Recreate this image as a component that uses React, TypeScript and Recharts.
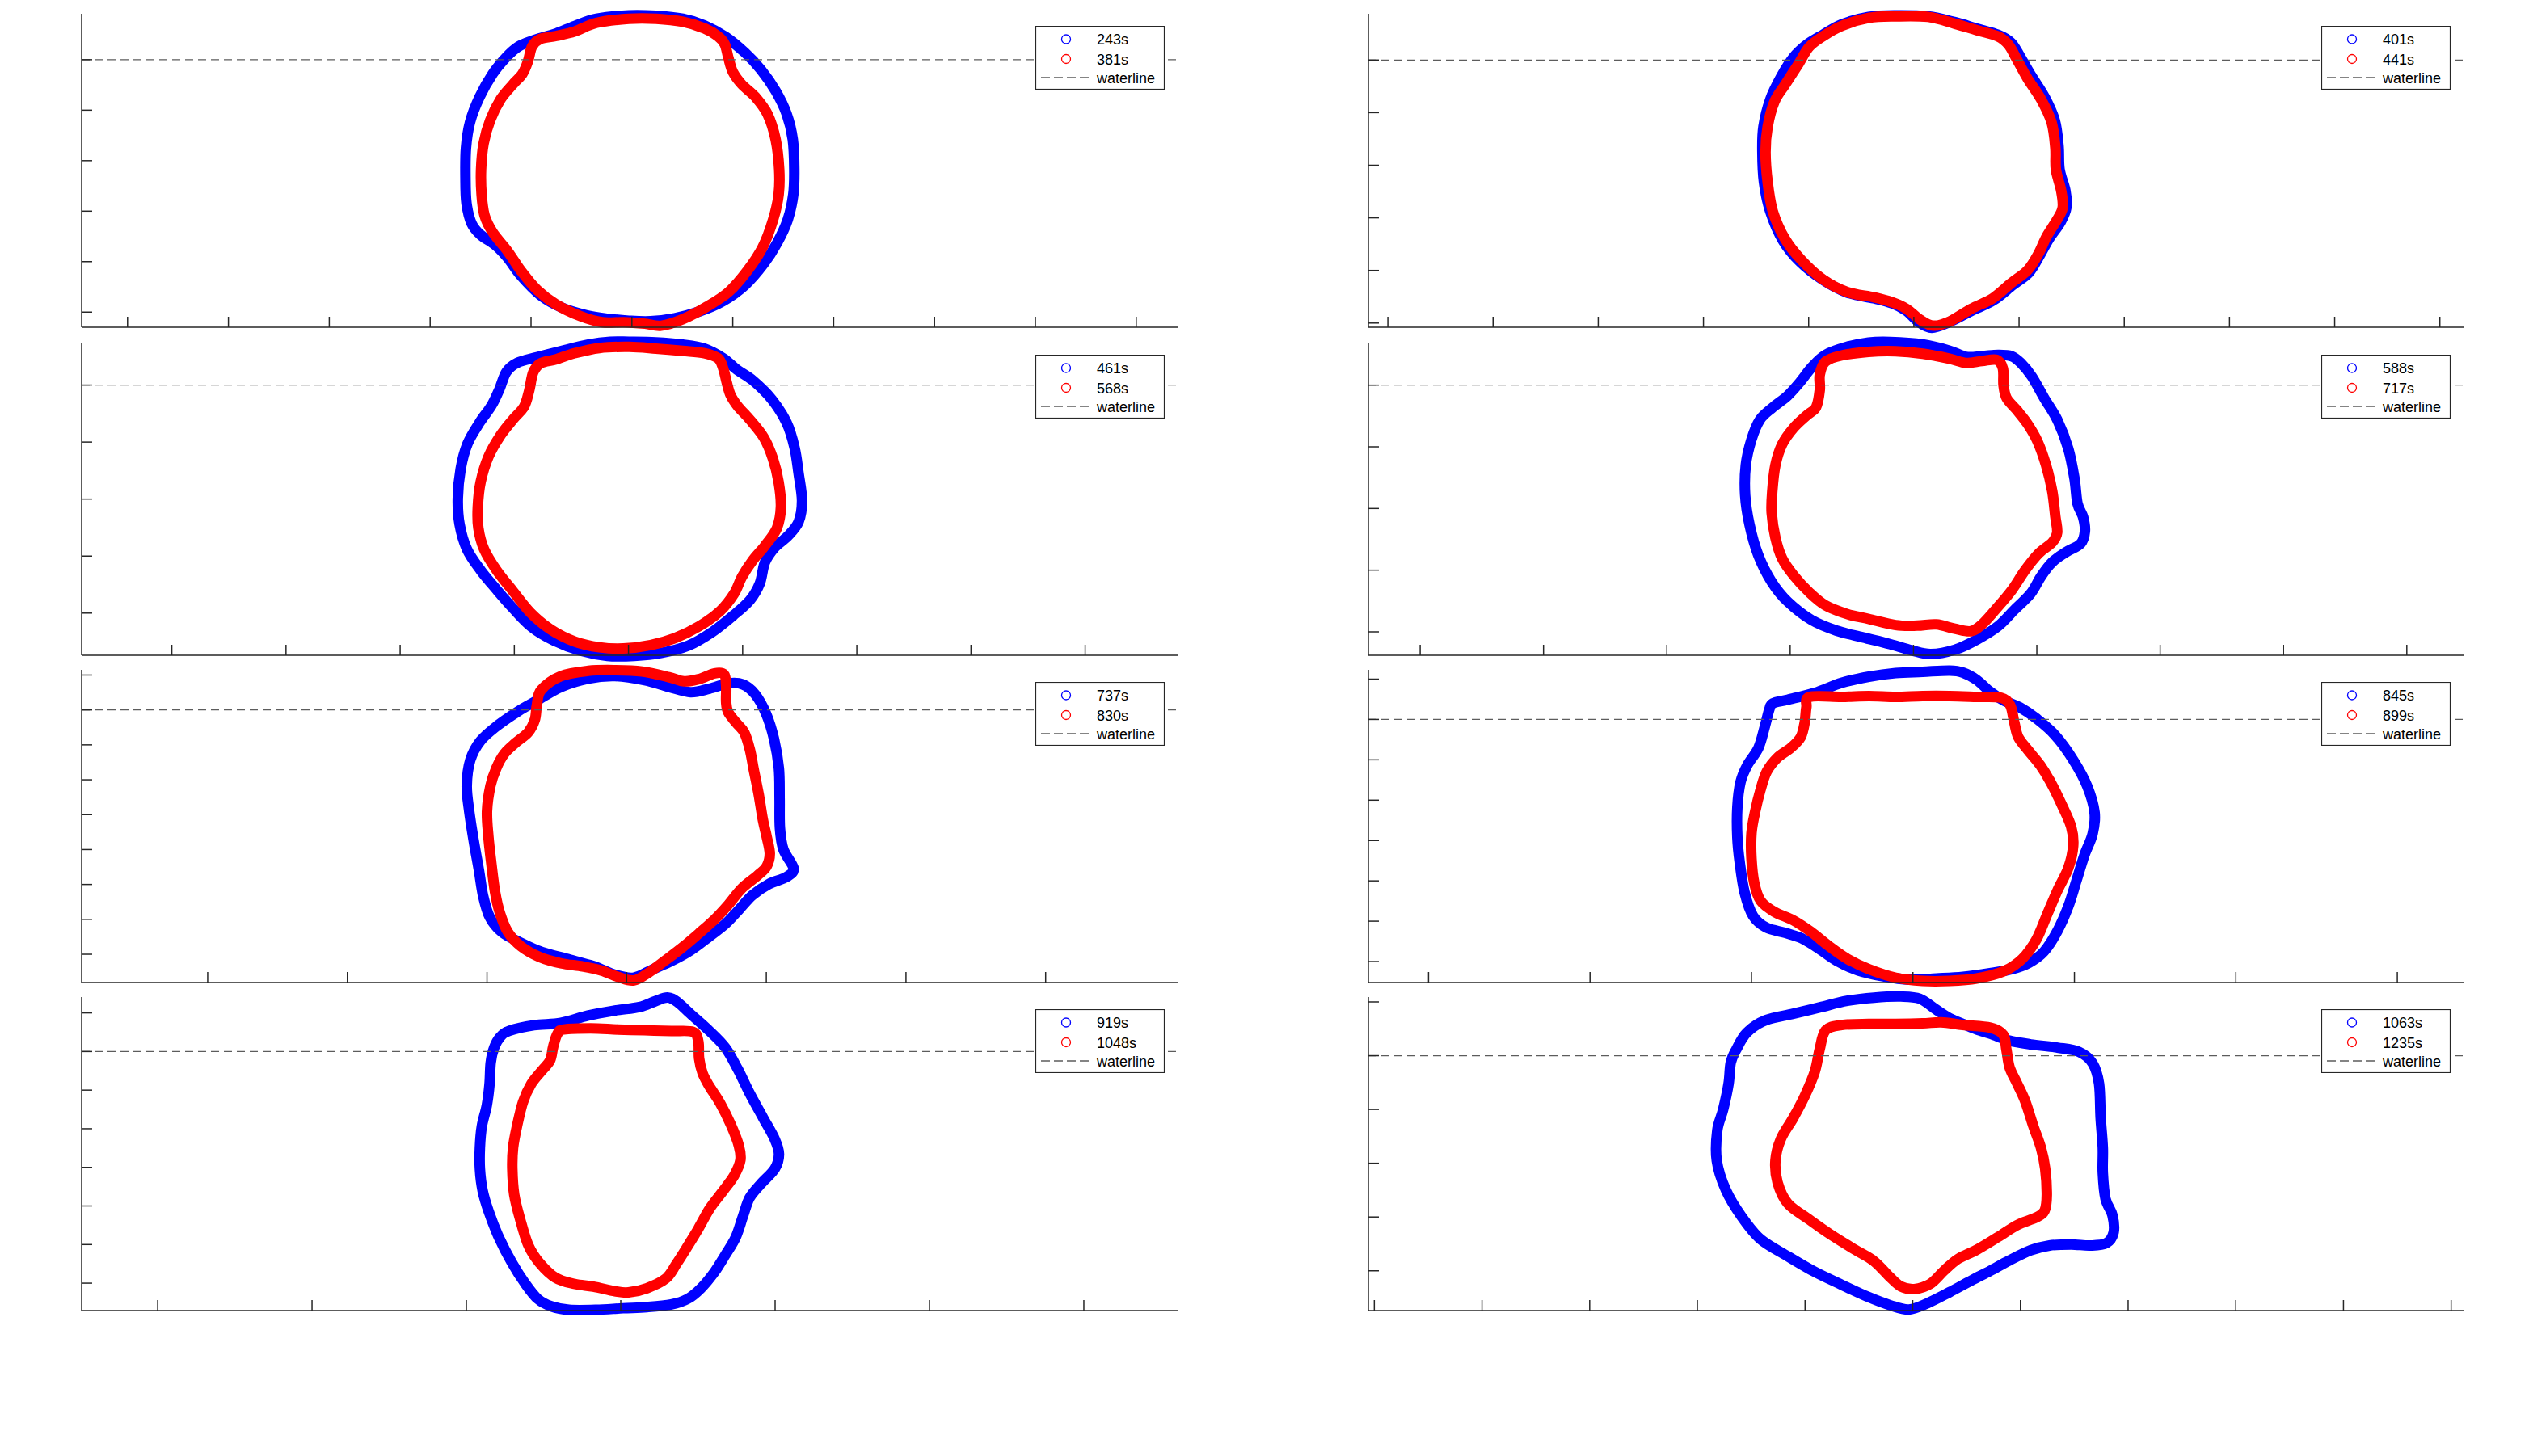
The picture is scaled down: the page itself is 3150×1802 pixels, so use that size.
import React from 'react';
import { LineChart, Line, XAxis, YAxis, ReferenceLine, Legend } from 'recharts';

type Pt = [number, number];

// ---------- contour data (x: horizontal position, y: height relative to waterline) ----------
const c243s: Pt[] = [[-0.06,0.88],[0.48,0.87],[1.01,0.81],[1.44,0.68],[1.86,0.45],[2.24,0.14],[2.56,-0.2],[2.85,-0.62],[3.07,-1.08],[3.19,-1.58],[3.22,-2.17],[3.2,-2.67],[3.09,-3.17],[2.88,-3.63],[2.61,-4.05],[2.24,-4.47],[1.81,-4.78],[1.33,-4.99],[0.85,-5.12],[0.37,-5.18],[-0.06,-5.17],[-0.49,-5.13],[-0.91,-5.06],[-1.39,-4.91],[-1.82,-4.66],[-2.2,-4.28],[-2.46,-3.93],[-2.7,-3.68],[-3.0,-3.47],[-3.18,-3.24],[-3.28,-2.84],[-3.3,-2.33],[-3.29,-1.75],[-3.21,-1.24],[-3.02,-0.74],[-2.76,-0.28],[-2.49,0.05],[-2.25,0.26],[-1.93,0.39],[-1.5,0.52],[-1.13,0.67],[-0.7,0.81]];
const c381s: Pt[] = [[-0.06,0.81],[0.48,0.81],[1.01,0.75],[1.44,0.62],[1.7,0.47],[1.84,0.31],[1.91,0.05],[2.0,-0.24],[2.18,-0.49],[2.45,-0.74],[2.69,-1.08],[2.85,-1.58],[2.92,-2.17],[2.91,-2.67],[2.8,-3.17],[2.59,-3.72],[2.29,-4.18],[1.92,-4.6],[1.49,-4.89],[1.01,-5.14],[0.58,-5.27],[0.26,-5.23],[-0.17,-5.2],[-0.59,-5.2],[-1.02,-5.08],[-1.5,-4.85],[-1.88,-4.56],[-2.2,-4.18],[-2.46,-3.8],[-2.76,-3.42],[-2.92,-3.09],[-2.98,-2.67],[-2.99,-2.17],[-2.94,-1.66],[-2.81,-1.2],[-2.6,-0.78],[-2.36,-0.49],[-2.17,-0.28],[-2.06,-0.03],[-1.98,0.26],[-1.82,0.41],[-1.5,0.47],[-1.13,0.56],[-0.7,0.73]];

const c401s: Pt[] = [[-0.35,0.85],[0.27,0.83],[0.78,0.72],[1.19,0.6],[1.6,0.48],[1.85,0.33],[2.03,0.05],[2.24,-0.31],[2.49,-0.71],[2.68,-1.15],[2.75,-1.63],[2.77,-2.08],[2.88,-2.48],[2.9,-2.8],[2.79,-3.08],[2.57,-3.4],[2.39,-3.72],[2.19,-4.04],[1.88,-4.28],[1.51,-4.57],[1.09,-4.77],[0.68,-4.98],[0.34,-5.09],[0.09,-4.98],[-0.14,-4.77],[-0.4,-4.63],[-0.76,-4.53],[-1.27,-4.42],[-1.73,-4.18],[-2.17,-3.83],[-2.49,-3.43],[-2.73,-2.88],[-2.85,-2.32],[-2.88,-1.75],[-2.86,-1.27],[-2.73,-0.75],[-2.52,-0.31],[-2.29,0.05],[-2.04,0.29],[-1.73,0.48],[-1.37,0.68],[-0.86,0.82]];
const c441s: Pt[] = [[-0.35,0.83],[0.27,0.82],[0.78,0.69],[1.19,0.57],[1.6,0.45],[1.8,0.29],[1.96,0.01],[2.16,-0.35],[2.42,-0.75],[2.62,-1.19],[2.69,-1.67],[2.7,-2.08],[2.8,-2.48],[2.83,-2.8],[2.72,-3.04],[2.52,-3.36],[2.37,-3.68],[2.16,-4.0],[1.85,-4.24],[1.5,-4.53],[1.09,-4.73],[0.68,-4.97],[0.37,-5.05],[0.11,-4.93],[-0.14,-4.73],[-0.4,-4.61],[-0.76,-4.51],[-1.27,-4.41],[-1.73,-4.17],[-2.14,-3.8],[-2.45,-3.4],[-2.68,-2.88],[-2.78,-2.32],[-2.82,-1.75],[-2.78,-1.27],[-2.65,-0.79],[-2.45,-0.47],[-2.19,-0.07],[-1.99,0.25],[-1.73,0.45],[-1.37,0.65],[-0.86,0.8]];

const c461s: Pt[] = [[0.01,0.76],[0.48,0.75],[0.95,0.71],[1.33,0.64],[1.66,0.47],[1.9,0.27],[2.18,0.08],[2.51,-0.25],[2.77,-0.66],[2.91,-1.1],[2.98,-1.55],[3.04,-2.03],[2.98,-2.4],[2.79,-2.65],[2.56,-2.85],[2.39,-3.11],[2.3,-3.48],[2.13,-3.77],[1.85,-4.03],[1.47,-4.33],[1.05,-4.57],[0.57,-4.7],[0.1,-4.75],[-0.37,-4.75],[-0.84,-4.66],[-1.31,-4.48],[-1.69,-4.25],[-2.02,-3.92],[-2.31,-3.59],[-2.59,-3.25],[-2.83,-2.88],[-2.96,-2.44],[-2.99,-1.99],[-2.94,-1.47],[-2.82,-1.03],[-2.61,-0.66],[-2.4,-0.36],[-2.26,-0.07],[-2.14,0.23],[-1.95,0.39],[-1.6,0.49],[-1.17,0.6],[-0.7,0.71],[-0.32,0.76]];
const c568s: Pt[] = [[0.01,0.67],[0.48,0.64],[0.95,0.6],[1.33,0.56],[1.57,0.47],[1.66,0.29],[1.72,0.05],[1.79,-0.18],[1.92,-0.38],[2.13,-0.61],[2.37,-0.92],[2.53,-1.29],[2.63,-1.7],[2.67,-2.14],[2.6,-2.51],[2.39,-2.82],[2.18,-3.07],[1.99,-3.36],[1.85,-3.66],[1.61,-3.96],[1.24,-4.23],[0.81,-4.44],[0.39,-4.56],[-0.09,-4.62],[-0.51,-4.6],[-0.94,-4.5],[-1.36,-4.29],[-1.72,-3.99],[-2.02,-3.62],[-2.31,-3.25],[-2.53,-2.88],[-2.63,-2.51],[-2.64,-2.14],[-2.59,-1.7],[-2.45,-1.25],[-2.24,-0.88],[-2.02,-0.6],[-1.83,-0.38],[-1.74,-0.1],[-1.67,0.22],[-1.54,0.38],[-1.27,0.45],[-0.94,0.56],[-0.51,0.65]];

const c588s: Pt[] = [[-0.38,0.7],[0.15,0.66],[0.58,0.56],[0.85,0.46],[1.11,0.47],[1.37,0.49],[1.59,0.47],[1.74,0.36],[1.92,0.14],[2.12,-0.21],[2.33,-0.56],[2.51,-1.03],[2.61,-1.51],[2.66,-1.92],[2.75,-2.14],[2.78,-2.37],[2.71,-2.57],[2.47,-2.71],[2.25,-2.87],[2.07,-3.1],[1.9,-3.38],[1.63,-3.65],[1.37,-3.91],[1.02,-4.13],[0.67,-4.29],[0.28,-4.36],[-0.03,-4.3],[-0.38,-4.2],[-0.82,-4.09],[-1.25,-3.98],[-1.65,-3.81],[-2.04,-3.51],[-2.3,-3.19],[-2.52,-2.75],[-2.66,-2.26],[-2.73,-1.78],[-2.72,-1.3],[-2.63,-0.89],[-2.49,-0.56],[-2.28,-0.36],[-2.04,-0.17],[-1.84,0.05],[-1.65,0.29],[-1.43,0.49],[-1.08,0.62],[-0.73,0.69]];
const c717s: Pt[] = [[-1.17,0.48],[-0.73,0.54],[-0.29,0.55],[0.15,0.51],[0.58,0.43],[0.85,0.36],[1.11,0.39],[1.35,0.41],[1.45,0.27],[1.46,0.0],[1.51,-0.21],[1.68,-0.41],[1.85,-0.63],[2.01,-0.91],[2.15,-1.3],[2.25,-1.72],[2.3,-2.13],[2.33,-2.39],[2.25,-2.55],[2.03,-2.73],[1.81,-3.0],[1.59,-3.33],[1.33,-3.64],[1.11,-3.88],[0.93,-3.99],[0.67,-3.95],[0.37,-3.88],[0.06,-3.9],[-0.29,-3.89],[-0.73,-3.79],[-1.08,-3.71],[-1.43,-3.57],[-1.69,-3.36],[-1.94,-3.09],[-2.13,-2.81],[-2.24,-2.47],[-2.3,-2.07],[-2.29,-1.72],[-2.24,-1.3],[-2.13,-0.96],[-1.95,-0.7],[-1.73,-0.49],[-1.58,-0.36],[-1.52,-0.08],[-1.52,0.17],[-1.43,0.38]];

const c737s: Pt[] = [[-0.33,0.97],[0.52,0.85],[1.21,0.66],[1.83,0.51],[2.37,0.61],[2.91,0.76],[3.33,0.73],[3.68,0.45],[3.99,-0.1],[4.22,-0.83],[4.36,-1.68],[4.38,-2.53],[4.39,-3.39],[4.49,-4.0],[4.78,-4.54],[4.57,-4.79],[4.07,-4.99],[3.6,-5.31],[3.22,-5.72],[2.83,-6.13],[2.37,-6.49],[1.83,-6.89],[1.29,-7.19],[0.75,-7.43],[0.21,-7.67],[-0.33,-7.59],[-0.95,-7.34],[-1.72,-7.13],[-2.42,-6.94],[-3.03,-6.67],[-3.57,-6.37],[-3.92,-5.94],[-4.11,-5.33],[-4.23,-4.6],[-4.38,-3.75],[-4.51,-2.9],[-4.58,-2.17],[-4.48,-1.44],[-4.19,-0.89],[-3.69,-0.44],[-3.11,-0.04],[-2.57,0.27],[-1.88,0.66],[-1.1,0.9]];
const c830s: Pt[] = [[-1.88,0.97],[-1.1,1.12],[-0.33,1.14],[0.44,1.1],[1.21,0.94],[1.64,0.82],[2.06,0.88],[2.52,1.05],[2.79,1.02],[2.85,0.69],[2.85,0.21],[2.91,-0.07],[3.14,-0.37],[3.37,-0.65],[3.53,-1.14],[3.64,-1.71],[3.78,-2.41],[3.9,-3.14],[4.01,-3.63],[4.1,-4.12],[4.01,-4.48],[3.74,-4.75],[3.29,-5.12],[2.91,-5.58],[2.52,-6.0],[2.06,-6.41],[1.6,-6.8],[1.13,-7.16],[0.67,-7.5],[0.21,-7.75],[-0.25,-7.65],[-0.72,-7.47],[-1.26,-7.35],[-1.88,-7.26],[-2.49,-7.08],[-3.03,-6.77],[-3.4,-6.37],[-3.63,-5.82],[-3.77,-5.21],[-3.88,-4.36],[-3.96,-3.63],[-4.0,-2.9],[-3.9,-2.17],[-3.73,-1.66],[-3.5,-1.25],[-3.19,-0.95],[-2.82,-0.64],[-2.63,-0.28],[-2.57,0.15],[-2.45,0.57]];

const c845s: Pt[] = [[-3.47,0.4],[-3.1,0.49],[-2.43,0.66],[-1.76,0.91],[-1.09,1.06],[-0.43,1.15],[0.24,1.18],[0.91,1.21],[1.24,1.16],[1.58,0.98],[1.91,0.69],[2.25,0.47],[2.65,0.3],[3.05,0.03],[3.52,-0.39],[3.98,-1.02],[4.32,-1.66],[4.5,-2.31],[4.45,-2.84],[4.25,-3.36],[4.05,-4.0],[3.85,-4.63],[3.58,-5.24],[3.25,-5.75],[2.88,-6.03],[2.45,-6.19],[1.91,-6.29],[1.24,-6.38],[0.58,-6.42],[-0.09,-6.45],[-0.76,-6.36],[-1.36,-6.22],[-1.89,-5.98],[-2.36,-5.66],[-2.76,-5.42],[-3.16,-5.29],[-3.63,-5.16],[-3.96,-4.87],[-4.17,-4.29],[-4.29,-3.55],[-4.35,-2.92],[-4.35,-2.18],[-4.27,-1.55],[-4.1,-1.13],[-3.83,-0.71],[-3.67,-0.18],[-3.56,0.24]];
const c899s: Pt[] = [[-2.56,0.56],[-1.76,0.56],[-1.09,0.58],[-0.43,0.56],[0.24,0.58],[0.91,0.58],[1.58,0.56],[2.18,0.54],[2.41,0.35],[2.51,-0.07],[2.61,-0.44],[2.85,-0.76],[3.15,-1.13],[3.42,-1.57],[3.68,-2.1],[3.92,-2.66],[3.97,-3.13],[3.85,-3.68],[3.58,-4.24],[3.33,-4.82],[3.06,-5.45],[2.71,-5.93],[2.25,-6.24],[1.58,-6.42],[0.91,-6.48],[0.24,-6.48],[-0.43,-6.4],[-1.09,-6.19],[-1.63,-5.93],[-2.09,-5.61],[-2.53,-5.26],[-2.96,-4.98],[-3.43,-4.77],[-3.77,-4.5],[-3.93,-4.06],[-4.0,-3.45],[-4.0,-2.82],[-3.91,-2.29],[-3.78,-1.76],[-3.62,-1.29],[-3.35,-0.94],[-3.03,-0.71],[-2.78,-0.44],[-2.68,-0.07],[-2.64,0.3]];

const c919s: Pt[] = [[-2.88,0.54],[-2.25,0.68],[-1.55,0.74],[-0.85,0.93],[-0.15,1.06],[0.48,1.15],[0.89,1.3],[1.21,1.4],[1.47,1.28],[1.8,0.98],[2.29,0.54],[2.71,0.1],[3.03,-0.45],[3.34,-1.08],[3.69,-1.72],[3.99,-2.27],[4.1,-2.66],[3.99,-3.04],[3.63,-3.43],[3.34,-3.79],[3.17,-4.26],[2.98,-4.81],[2.71,-5.27],[2.43,-5.71],[2.08,-6.13],[1.73,-6.41],[1.31,-6.55],[0.68,-6.62],[0.06,-6.65],[-0.64,-6.69],[-1.34,-6.69],[-1.8,-6.6],[-2.15,-6.41],[-2.47,-6.02],[-2.82,-5.47],[-3.16,-4.81],[-3.42,-4.15],[-3.58,-3.6],[-3.65,-3.04],[-3.65,-2.49],[-3.6,-1.94],[-3.47,-1.39],[-3.4,-0.84],[-3.37,-0.29],[-3.28,0.1],[-3.12,0.38]];
const c1048s: Pt[] = [[-1.48,0.57],[-0.78,0.6],[-0.08,0.57],[0.61,0.55],[1.31,0.53],[1.87,0.51],[2.01,0.26],[2.03,-0.18],[2.12,-0.56],[2.29,-0.89],[2.57,-1.33],[2.85,-1.89],[3.06,-2.44],[3.1,-2.82],[2.94,-3.21],[2.66,-3.6],[2.31,-4.06],[2.01,-4.59],[1.73,-5.05],[1.45,-5.49],[1.17,-5.88],[0.68,-6.13],[0.2,-6.24],[-0.15,-6.21],[-0.71,-6.09],[-1.2,-6.02],[-1.69,-5.86],[-2.11,-5.47],[-2.39,-5.03],[-2.6,-4.37],[-2.76,-3.71],[-2.81,-3.04],[-2.79,-2.49],[-2.69,-1.94],[-2.53,-1.3],[-2.32,-0.84],[-2.04,-0.49],[-1.83,-0.23],[-1.75,0.13],[-1.64,0.46]];

const c1063s: Pt[] = [[-3.28,0.11],[-3.08,0.43],[-2.73,0.66],[-2.22,0.78],[-1.72,0.9],[-1.22,1.02],[-0.72,1.08],[-0.22,1.1],[0.13,1.06],[0.43,0.86],[0.68,0.7],[0.93,0.59],[1.18,0.49],[1.49,0.39],[1.79,0.28],[2.19,0.21],[2.69,0.15],[3.09,0.07],[3.34,-0.14],[3.46,-0.52],[3.49,-1.16],[3.53,-1.71],[3.53,-2.18],[3.58,-2.66],[3.71,-2.97],[3.73,-3.29],[3.59,-3.49],[3.29,-3.53],[2.94,-3.51],[2.54,-3.53],[2.19,-3.62],[1.79,-3.81],[1.44,-4.0],[1.09,-4.18],[0.68,-4.4],[0.28,-4.6],[-0.07,-4.72],[-0.42,-4.64],[-0.82,-4.49],[-1.32,-4.26],[-1.82,-4.02],[-2.32,-3.73],[-2.83,-3.41],[-3.18,-2.99],[-3.47,-2.5],[-3.64,-1.95],[-3.63,-1.39],[-3.52,-1.0],[-3.42,-0.52],[-3.38,-0.13]];
const c1235s: Pt[] = [[-1.62,0.47],[-1.32,0.57],[-0.82,0.59],[-0.32,0.59],[0.18,0.6],[0.53,0.62],[0.93,0.57],[1.44,0.52],[1.68,0.39],[1.74,0.11],[1.8,-0.22],[1.94,-0.52],[2.09,-0.85],[2.24,-1.31],[2.38,-1.71],[2.46,-2.1],[2.49,-2.59],[2.45,-2.88],[2.29,-3.01],[1.94,-3.15],[1.59,-3.37],[1.19,-3.61],[0.84,-3.78],[0.58,-4.0],[0.33,-4.24],[0.03,-4.34],[-0.22,-4.29],[-0.42,-4.12],[-0.72,-3.82],[-1.07,-3.61],[-1.52,-3.33],[-1.92,-3.05],[-2.32,-2.75],[-2.51,-2.36],[-2.55,-1.95],[-2.45,-1.55],[-2.22,-1.16],[-2.01,-0.76],[-1.82,-0.3],[-1.73,0.11]];

// ---------- axis ticks ----------
const xTicksStep2a = [-10, -8, -6, -4, -2, 0, 2, 4, 6, 8, 10];
const xTicksStep2b = [-8, -6, -4, -2, 0, 2, 4, 6, 8];
const xTicksStep4 = [-12, -8, -4, 0, 4, 8, 12];
const yTicksP1 = [-5, -4, -3, -2, -1, 0];
const yTicksP2 = [-4, -3, -2, -1, 0];
const yTicksP3L = [-7, -6, -5, -4, -3, -2, -1, 0, 1];
const yTicksP3R = [-6, -5, -4, -3, -2, -1, 0, 1];
const yTicksP4L = [-6, -5, -4, -3, -2, -1, 0, 1];
const yTicksP4R = [-4, -3, -2, -1, 0, 1];
const waterlineLevel = 0;

// ---------- layout ----------
const M = 30;
const LEFT_X = 101, LEFT_W = 1356;
const RIGHT_X = 1693, RIGHT_W = 1355;
const ROWS = [
  { top: 17, h: 388 },
  { top: 424, h: 387 },
  { top: 829, h: 387 },
  { top: 1234, h: 388 },
];

const panels = [
  { row: 0, col: 0, xd: [-10.91, 10.82], yd: [-5.3, 0.91], xt: xTicksStep2a, yt: yTicksP1, b: c243s, r: c381s, bl: '243s', rl: '381s' },
  { row: 0, col: 1, xd: [-10.37, 10.45], yd: [-5.08, 0.88], xt: xTicksStep2a, yt: yTicksP1, b: c401s, r: c441s, bl: '401s', rl: '441s' },
  { row: 1, col: 0, xd: [-9.58, 9.62], yd: [-4.74, 0.745], xt: xTicksStep2b, yt: yTicksP2, b: c461s, r: c568s, bl: '461s', rl: '568s' },
  { row: 1, col: 1, xd: [-8.84, 8.92], yd: [-4.38, 0.69], xt: xTicksStep2b, yt: yTicksP2, b: c588s, r: c717s, bl: '588s', rl: '717s' },
  { row: 2, col: 0, xd: [-15.61, 15.78], yd: [-7.81, 1.15], xt: xTicksStep4, yt: yTicksP3L, b: c737s, r: c830s, bl: '737s', rl: '830s' },
  { row: 2, col: 1, xd: [-13.49, 13.64], yd: [-6.52, 1.23], xt: xTicksStep4, yt: yTicksP3R, b: c845s, r: c899s, bl: '845s', rl: '899s' },
  { row: 3, col: 0, xd: [-13.97, 14.43], yd: [-6.71, 1.41], xt: xTicksStep4, yt: yTicksP4L, b: c919s, r: c1048s, bl: '919s', rl: '1048s' },
  { row: 3, col: 1, xd: [-10.11, 10.23], yd: [-4.74, 1.09], xt: xTicksStep2a, yt: yTicksP4R, b: c1063s, r: c1235s, bl: '1063s', rl: '1235s' },
];

// closed Catmull-Rom curve factory (smooth closed contour through the points)
const closedCurve: any = (context: any) => {
  let pts: number[][] = [];
  return {
    areaStart() {},
    areaEnd() {},
    lineStart() { pts = []; },
    point(x: number, y: number) { pts.push([+x, +y]); },
    lineEnd() {
      const n = pts.length;
      if (!n) return;
      context.moveTo(pts[0][0], pts[0][1]);
      for (let i = 0; i < n; i++) {
        const p0 = pts[(i - 1 + n) % n];
        const p1 = pts[i];
        const p2 = pts[(i + 1) % n];
        const p3 = pts[(i + 2) % n];
        context.bezierCurveTo(
          p1[0] + (p2[0] - p0[0]) / 6, p1[1] + (p2[1] - p0[1]) / 6,
          p2[0] - (p3[0] - p1[0]) / 6, p2[1] - (p3[1] - p1[1]) / 6,
          p2[0], p2[1],
        );
      }
      context.closePath();
    },
  };
};

const FONT = '"Liberation Sans", Arial, Helvetica, sans-serif';
const AXIS_COLOR = '#262626';
const WATER_COLOR = '#5c5c5c';

const EmptyTick = () => <g />;

const LegendBox = ({ bl, rl }: { bl: string; rl: string }) => (
  <svg width={160} height={79} style={{ display: 'block' }}>
    <rect x={0.5} y={0.5} width={159} height={78} fill="#fff" stroke={AXIS_COLOR} strokeWidth={1.2} />
    <circle cx={38} cy={16.5} r={5.5} fill="none" stroke="#0000ff" strokeWidth={1.3} />
    <text x={76} y={23} fontFamily={FONT} fontSize={18} fill="#000">{bl}</text>
    <circle cx={38} cy={41} r={5.5} fill="none" stroke="#ff0000" strokeWidth={1.3} />
    <text x={76} y={47.5} fontFamily={FONT} fontSize={18} fill="#000">{rl}</text>
    <line x1={7} y1={64} x2={66} y2={64} stroke={WATER_COLOR} strokeWidth={1.3} strokeDasharray="11 5" />
    <text x={76} y={70.5} fontFamily={FONT} fontSize={18} fill="#000">waterline</text>
  </svg>
);

const toRows = (c: Pt[]) => c.map(([x, y]) => ({ x, y }));

const Panel = ({ p }: { p: (typeof panels)[number] }) => {
  const row = ROWS[p.row];
  const ax = p.col === 0 ? LEFT_X : RIGHT_X;
  const aw = p.col === 0 ? LEFT_W : RIGHT_W;
  return (
    <div style={{ position: 'absolute', left: ax - M, top: row.top - M }}>
      <LineChart width={aw + 2 * M} height={row.h + 2 * M} margin={{ top: M, right: M, bottom: M, left: M }}>
        <XAxis
          type="number"
          dataKey="x"
          domain={p.xd as [number, number]}
          allowDataOverflow
          ticks={p.xt}
          tick={EmptyTick}
          tickSize={13}
          mirror
          height={1}
          interval={0}
          stroke={AXIS_COLOR}
          axisLine={{ stroke: AXIS_COLOR, strokeWidth: 1.5 }}
          tickLine={{ stroke: AXIS_COLOR, strokeWidth: 1.5 }}
        />
        <YAxis
          type="number"
          dataKey="y"
          domain={p.yd as [number, number]}
          allowDataOverflow
          ticks={p.yt}
          tick={EmptyTick}
          tickSize={13}
          mirror
          width={1}
          interval={0}
          stroke={AXIS_COLOR}
          axisLine={{ stroke: AXIS_COLOR, strokeWidth: 1.5 }}
          tickLine={{ stroke: AXIS_COLOR, strokeWidth: 1.5 }}
        />
        <Line
          data={toRows(p.b)}
          dataKey="y"
          type={closedCurve}
          stroke="#0000ff"
          strokeWidth={13}
          strokeLinejoin="round"
          dot={false}
          activeDot={false}
          isAnimationActive={false}
          legendType="circle"
          name={p.bl}
        />
        <Line
          data={toRows(p.r)}
          dataKey="y"
          type={closedCurve}
          stroke="#ff0000"
          strokeWidth={13}
          strokeLinejoin="round"
          dot={false}
          activeDot={false}
          isAnimationActive={false}
          legendType="circle"
          name={p.rl}
        />
        <ReferenceLine y={waterlineLevel} stroke={WATER_COLOR} strokeWidth={1.3} strokeDasharray="10 6" />
        <Legend
          layout="horizontal"
          align="center"
          verticalAlign="middle"
          wrapperStyle={{ right: M + 16, top: M + 15, width: 160, height: 79, left: 'auto', bottom: 'auto' }}
          content={() => <LegendBox bl={p.bl} rl={p.rl} />}
        />
      </LineChart>
    </div>
  );
};

export default function App() {
  return (
    <div style={{ position: 'absolute', left: 0, top: 0, width: 3150, height: 1802, background: '#fff', overflow: 'hidden' }}>
      <style>{`
        .recharts-wrapper g, .recharts-wrapper path { clip-path: none !important; }
        .recharts-surface { overflow: visible; }
      `}</style>
      {panels.map((p, i) => (
        <Panel key={i} p={p} />
      ))}
    </div>
  );
}
